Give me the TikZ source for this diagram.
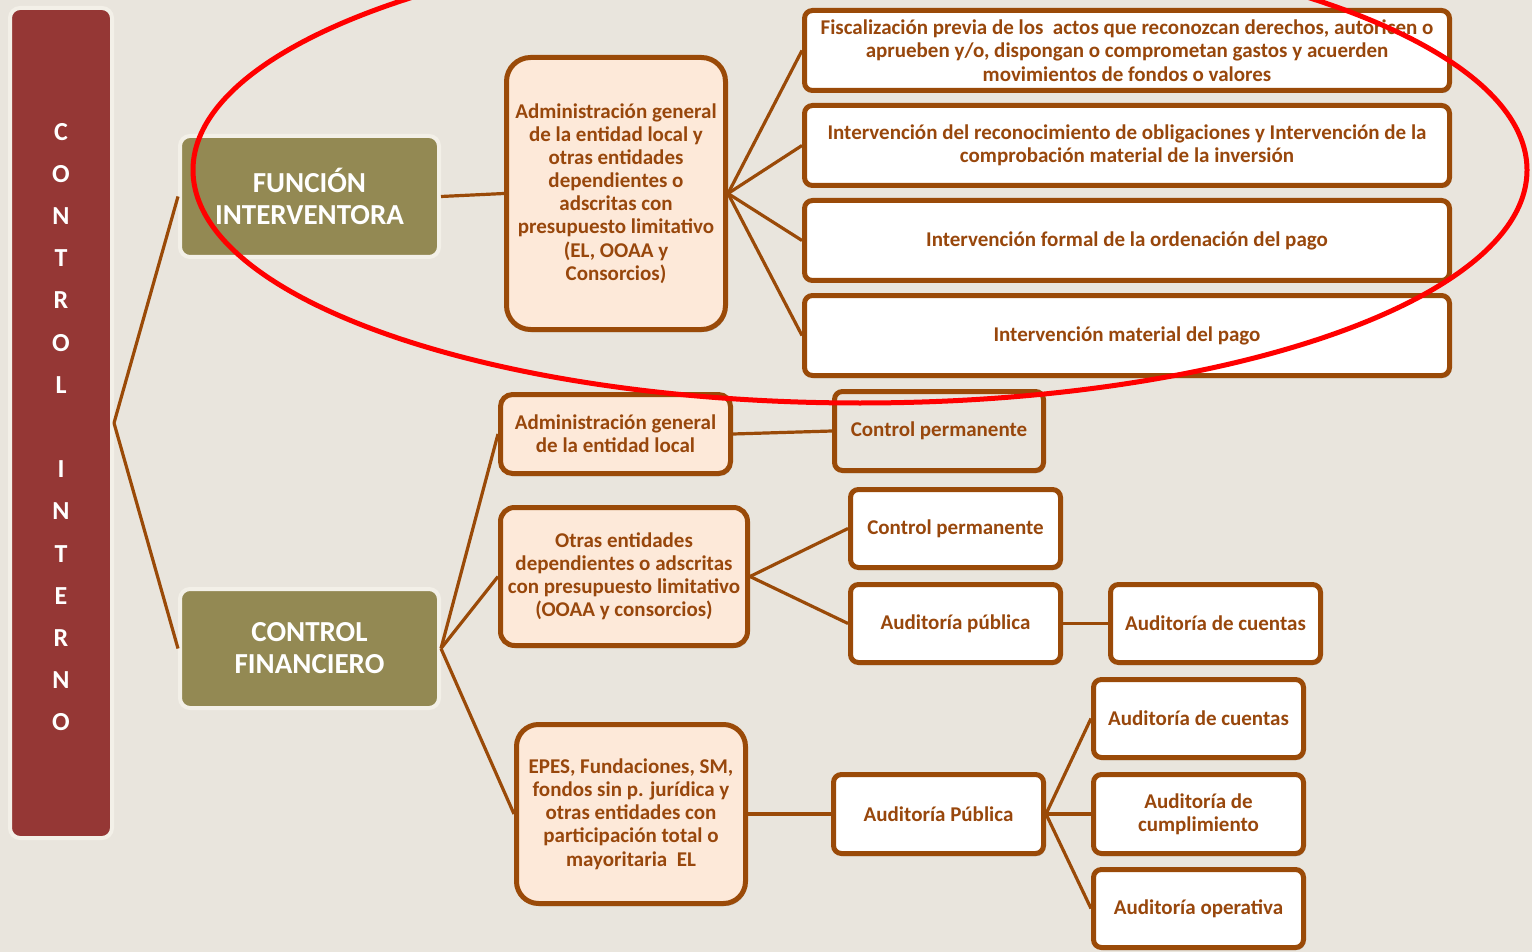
\documentclass[tikz,border=0pt]{standalone}
\usepackage{fontspec}
\setmainfont{Carlito}
\usetikzlibrary{shadows}
\definecolor{bgc}{HTML}{E9E5DD}
\definecolor{redc}{HTML}{953735}
\definecolor{olivec}{HTML}{938953}
\definecolor{peachc}{HTML}{FDE9D9}
\definecolor{brownc}{HTML}{9A4A08}
\definecolor{textc}{HTML}{98470C}
\definecolor{rimc}{HTML}{F3F0E8}
\tikzset{
  shad/.style={drop shadow={shadow xshift=1.5pt, shadow yshift=-2.5pt, opacity=0.3, fill=black!70}},
  rimbox/.style={draw=rimc, line width=4pt, rounded corners=10pt, inner sep=0pt},
  brownbase/.style={draw=brownc, line width=5pt, inner sep=0pt, text=textc, align=center, font=\bfseries\fontsize{21}{23}\selectfont, shad},
  whitebox/.style={brownbase, fill=white, rounded corners=8pt},
  longbox/.style={whitebox, minimum width=645pt, minimum height=80pt, font=\bfseries\fontsize{21}{23.5}\selectfont},
  smallbox/.style={whitebox, minimum width=210pt, minimum height=78pt},
  peachbox/.style={brownbase, fill=peachc, rounded corners=14pt},
  conn/.style={draw=brownc, line width=3.2pt},
  bigtext/.style={text=white, align=center, font=\bfseries\fontsize{29}{32}\selectfont}
}
\begin{document}
\begin{tikzpicture}[x=1pt,y=-1pt]
\fill[bgc] (0,0) rectangle (1532,952);
\useasboundingbox (0,0) rectangle (1532,952);

% left vertical box
\node[rimbox, fill=redc, minimum width=102pt, minimum height=830pt] (ci) at (61,423) {};
\node[text=white, align=center, font=\bfseries\fontsize{26}{42.2}\selectfont] (cil) at (61,427)
  {C\\O\\N\\T\\R\\O\\L\\[42.2pt]I\\N\\T\\E\\R\\N\\O};

% level 1
\node[rimbox, fill=olivec, minimum width=259pt, minimum height=121pt, bigtext] (fi) at (309.5,196.5) {FUNCIÓN\\INTERVENTORA};
\node[rimbox, fill=olivec, minimum width=259pt, minimum height=119pt, bigtext] (cf) at (309.5,648.5) {CONTROL\\FINANCIERO};

% level 2
\node[peachbox, rounded corners=24pt, minimum width=219pt, minimum height=272pt, font=\bfseries\fontsize{21}{23.1}\selectfont] (adm) at (616,193.5)
  {Administración general\\de la entidad local y\\otras entidades\\dependientes o\\adscritas con\\presupuesto limitativo\\(EL, OOAA y\\Consorcios)};
\node[peachbox, rounded corners=12pt, minimum width=230pt, minimum height=79pt] (adm2) at (615.5,434)
  {Administración general\\de la entidad local};
\node[peachbox, minimum width=247pt, minimum height=138pt] (otr) at (624,576.5)
  {Otras entidades\\dependientes o adscritas\\con presupuesto limitativo\\(OOAA y consorcios)};
\node[peachbox, rounded corners=22pt, minimum width=229pt, minimum height=179pt, font=\bfseries\fontsize{21}{23.2}\selectfont] (epes) at (631,814)
  {EPES, Fundaciones, SM,\\fondos sin p. jurídica y\\otras entidades con\\participación total o\\mayoritaria~ EL};

% function interventora items
\node[longbox] (r1) at (1127,50.5)
  {Fiscalización previa de los~ actos que reconozcan derechos, autoricen o\\aprueben y/o, dispongan o comprometan gastos y acuerden\\movimientos de fondos o valores};
\node[longbox] (r2) at (1127,145.5)
  {Intervención del reconocimiento de obligaciones y Intervención de la\\comprobación material de la inversión};
\node[longbox] (r3) at (1127,240.5) {Intervención formal de la ordenación del pago};
\node[longbox] (r4) at (1127,335.5) {Intervención material del pago};

% control financiero items
\node[brownbase, fill=bgc, rounded corners=8pt, minimum width=209pt, minimum height=79pt] (cp1) at (939,431) {Control permanente};
\node[smallbox] (cp2) at (955.5,528.5) {Control permanente};
\node[smallbox] (ap) at (955.5,623.5) {Auditoría pública};
\node[smallbox] (ac1) at (1215.5,623.5) {Auditoría de cuentas};
\node[smallbox, minimum height=79pt] (ap2) at (938.5,814) {Auditoría Pública};
\node[smallbox] (ac2) at (1198.5,718.5) {Auditoría de cuentas};
\node[smallbox, minimum height=79pt] (cum) at (1198.5,814) {Auditoría de\\cumplimiento};
\node[smallbox] (ope) at (1198.5,908.5) {Auditoría operativa};

% connectors
\draw[conn] (ci.east) -- (fi.west);
\draw[conn] (ci.east) -- (cf.west);
\draw[conn] (fi.east) -- (adm.west);
\foreach \t in {r1,r2,r3,r4} \draw[conn] (adm.east) -- (\t.west);
\draw[conn] (cf.east) -- (adm2.west);
\draw[conn] (cf.east) -- (otr.west);
\draw[conn] (cf.east) -- (epes.west);
\draw[conn] (adm2.east) -- (cp1.west);
\draw[conn] (otr.east) -- (cp2.west);
\draw[conn] (otr.east) -- (ap.west);
\draw[conn] (ap.east) -- (ac1.west);
\draw[conn] (epes.east) -- (ap2.west);
\draw[conn] (ap2.east) -- (ac2.west);
\draw[conn] (ap2.east) -- (cum.west);
\draw[conn] (ap2.east) -- (ope.west);

% red ellipse
\draw[red, line width=5pt] (860,170) ellipse [x radius=667pt, y radius=233pt];
\end{tikzpicture}
\end{document}
